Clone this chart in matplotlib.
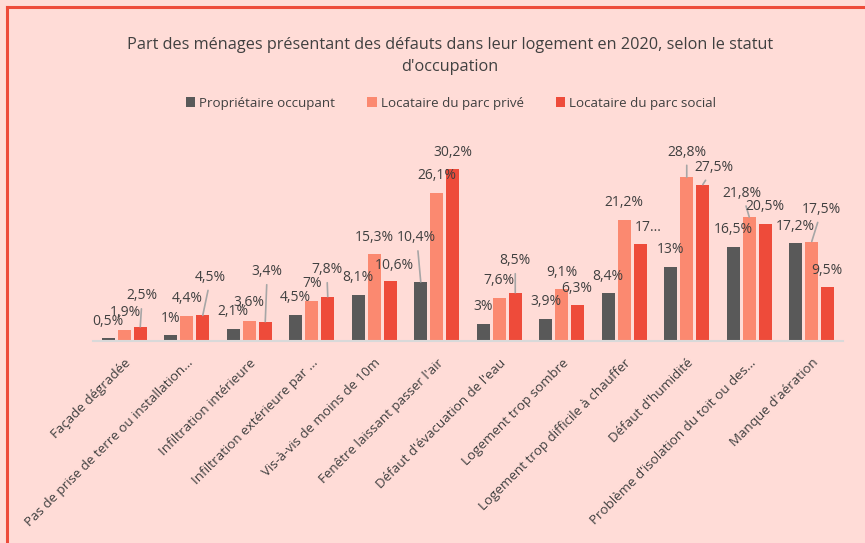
import numpy as np
import matplotlib
matplotlib.use("Agg")
import matplotlib.pyplot as plt
from matplotlib.lines import Line2D

categories = ["Façade dégradée", "Pas de prise de terre ou installation…",
              "Infiltration intérieure", "Infiltration extérieure par …",
              "Vis-à-vis de moins de 10m", "Fenêtre laissant passer l'air",
              "Défaut d'évacuation de l'eau", "Logement trop sombre",
              "Logement trop difficile à chauffer", "Défaut d'humidité",
              "Problème d'isolation du toit ou des…", "Manque d'aération"]
series = ["Propriétaire occupant", "Locataire du parc privé", "Locataire du parc social"]
proprietaire = [0.5, 1, 2.1, 4.5, 8.1, 10.4, 3, 3.9, 8.4, 13, 16.5, 17.2]
prive = [1.9, 4.4, 3.6, 7, 15.3, 26.1, 7.6, 9.1, 21.2, 28.8, 21.8, 17.5]
social = [2.5, 4.5, 3.4, 7.8, 10.6, 30.2, 8.5, 6.3, 17.0, 27.5, 20.5, 9.5]
label_overrides = {(2, 8): "17..."}

# label offsets in pixels (dx, dy up) per series, per category
offsets = [
    [(0, 17), (0, 17), (0, 18), (0, 18), (0, 17), (-4, 44), (0, 17), (0, 17), (0, 17), (0, 18), (0, 18), (0, 17)],
    [(1, 18), (0, 17), (0, 18), (0, 18), (0, 17), (0, 17), (0, 17), (0, 17), (0, 18), (0, 25), (-7, 24), (10, 32)],
    [(2, 31), (8, 38), (2, 50), (-1, 27), (4, 15), (0, 17), (0, 32), (-1, 17), (8, 17), (11, 17), (0, 18), (-1, 16)],
]

colors = ["#595959", "#FB8970", "#EE4B3A"]
bg = "#FFDCD7"
txt = "#404040"
font = "Open Sans"

fig = plt.figure(figsize=(8.65, 5.43), dpi=100, facecolor=bg)
ax = fig.add_axes([93 / 865, 1 - 341 / 543, 750 / 865, 199 / 543])
ax.set_facecolor(bg)

x = np.arange(len(categories))
w = 0.21
step = 0.256
for i, (vals, col, name) in enumerate(zip([proprietaire, prive, social], colors, series)):
    xs = x + (i - 1) * step
    ax.bar(xs, vals, width=w, color=col, label=name, zorder=2)
    for j, v in enumerate(vals):
        dx, dy = offsets[i][j]
        lab = label_overrides.get((i, j), ("%g" % v).replace(".", ",") + "%")
        props = None
        if dy > 22 or abs(dx) > 9:
            props = dict(arrowstyle="-", color="#A6A6A6", lw=1.2, shrinkA=2, shrinkB=0)
        ax.annotate(lab, xy=(xs[j], v), xytext=(dx, dy), textcoords="offset pixels",
                    ha="center", va="center", fontsize=10, color=txt, family=font,
                    arrowprops=props, annotation_clip=False, zorder=3)

ax.set_xlim(-0.5, len(categories) - 0.5)
ax.set_ylim(0, 35)
for s in ["top", "right", "left"]:
    ax.spines[s].set_visible(False)
ax.spines["bottom"].set_color("#D9D9D9")
ax.spines["bottom"].set_linewidth(1.5)
ax.set_yticks([])
ax.set_xticks(x)
ax.set_xticklabels(categories, rotation=45, ha="right", rotation_mode="anchor",
                   fontsize=9.6, color=txt, family=font)
ax.tick_params(axis="x", length=0, pad=11)

fig.text(450 / 865, 1 - 45 / 543, "Part des ménages présentant des défauts dans leur logement en 2020, selon le statut",
         ha="center", va="center", fontsize=11.7, color=txt, family=font)
fig.text(450 / 865, 1 - 67 / 543, "d'occupation", ha="center", va="center",
         fontsize=11.7, color=txt, family=font)

fig.legend(loc="center", bbox_to_anchor=(451 / 865, 1 - 103 / 543), ncol=3, frameon=False,
           handlelength=0.7, handleheight=0.7, handletextpad=0.3, columnspacing=2.4,
           prop={"family": font, "size": 9.6}, labelcolor=txt)

# chart area frame (top and left edges only visible)
fig.add_artist(Line2D([7 / 865, 1], [1 - 7 / 543, 1 - 7 / 543], transform=fig.transFigure,
                      color="#EE4B3A", lw=2.2))
fig.add_artist(Line2D([7 / 865, 7 / 865], [0, 1 - 7 / 543], transform=fig.transFigure,
                      color="#EE4B3A", lw=2.2))

fig.savefig("out.png", dpi=100, facecolor=bg)
